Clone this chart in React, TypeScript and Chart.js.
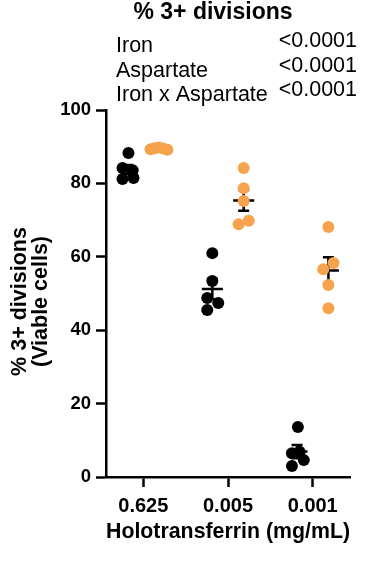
import React, { useEffect, useRef } from 'react';
import { Chart, registerables } from 'chart.js';

Chart.register(...registerables);

const chartTitle = '% 3+ divisions';
const factors = ['Iron', 'Aspartate', 'Iron x Aspartate'];
const pValues = ['<0.0001', '<0.0001', '<0.0001'];
const groups = ['0.625', '0.005', '0.001'];
const xAxisTitle = 'Holotransferrin (mg/mL)';
const yAxisTitle = ['% 3+ divisions', '(Viable cells)'];
const yTicks = [0, 20, 40, 60, 80, 100];

const seriesNames = ['Without aspartate', 'With aspartate'];
const blackValues = [
  [88.3, 84.2, 83.6, 81.2, 81.5],
  [61.0, 53.4, 48.8, 47.4, 45.5],
  [13.6, 6.5, 4.6, 3.0, 6.9],
];
const orangeValues = [
  [89.3, 89.6, 89.8, 89.5, 89.2],
  [84.2, 78.7, 75.2, 68.9, 69.8],
  [68.1, 58.3, 56.6, 52.3, 46.0],
];
const blackJitter = [
  [0.01, -0.06, 0.06, -0.06, 0.07],
  [0.0, 0.0, -0.06, 0.07, -0.06],
  [0.01, -0.06, 0.08, -0.06, 0.03],
];
const orangeJitter = [
  [-0.1, -0.05, 0.0, 0.05, 0.1],
  [0.0, 0.0, 0.0, -0.06, 0.06],
  [0.0, 0.06, -0.06, 0.0, 0.0],
];

const FONT = "'Liberation Sans', Arial, Helvetica, sans-serif";
const ORANGE = '#F7A24C';
const SERIES_OFFSET = 0.185;

function buildPoints(values: number[][], jitter: number[][], offset: number) {
  const pts: { x: number; y: number }[] = [];
  values.forEach((arr, g) => {
    arr.forEach((v, i) => {
      pts.push({ x: g + 1 + offset + jitter[g][i], y: v });
    });
  });
  return pts;
}

function meanSem(arr: number[]) {
  const n = arr.length;
  const m = arr.reduce((a, b) => a + b, 0) / n;
  const sd = Math.sqrt(arr.reduce((a, b) => a + (b - m) * (b - m), 0) / (n - 1));
  return { m, sem: sd / Math.sqrt(n) };
}

const errorBarPlugin = {
  id: 'meanSem',
  beforeDatasetsDraw(chart: any) {
    const ctx = chart.ctx;
    const xs = chart.scales.x;
    const ys = chart.scales.y;
    ctx.save();
    ctx.strokeStyle = '#000';
    ctx.lineWidth = 2.5;
    chart.data.datasets.forEach((ds: any) => {
      ds.groupValues.forEach((arr: number[], g: number) => {
        const { m, sem } = meanSem(arr);
        const cx = xs.getPixelForValue(g + 1 + ds.groupOffset);
        const ym = ys.getPixelForValue(m);
        const yt = ys.getPixelForValue(m + sem);
        const yb = ys.getPixelForValue(m - sem);
        ctx.beginPath();
        ctx.moveTo(cx - 10.5, ym);
        ctx.lineTo(cx + 10.5, ym);
        ctx.moveTo(cx, yt);
        ctx.lineTo(cx, yb);
        ctx.moveTo(cx - 5.5, yt);
        ctx.lineTo(cx + 5.5, yt);
        ctx.moveTo(cx - 5.5, yb);
        ctx.lineTo(cx + 5.5, yb);
        ctx.stroke();
      });
    });
    ctx.restore();
  },
};

const textPlugin = {
  id: 'outerText',
  afterDraw(chart: any) {
    const ctx = chart.ctx;
    ctx.save();
    ctx.fillStyle = '#000';
    ctx.font = `bold 23px ${FONT}`;
    ctx.textAlign = 'center';
    ctx.textBaseline = 'alphabetic';
    ctx.fillText(chartTitle, 213, 18.5);

    ctx.font = `21.5px ${FONT}`;
    factors.forEach((f, i) => {
      ctx.textAlign = 'left';
      ctx.fillText(f, 116, 52 + i * 24.5);
      ctx.textAlign = 'right';
      ctx.fillText(pValues[i], 357, 47 + i * 24.5);
    });

    const area = chart.chartArea;
    ctx.font = `bold 21.5px ${FONT}`;
    ctx.textAlign = 'center';
    ctx.textBaseline = 'middle';
    yAxisTitle.forEach((t, i) => {
      ctx.save();
      ctx.translate(20 + i * 21, (area.top + area.bottom) / 2 + 8);
      ctx.rotate(-Math.PI / 2);
      ctx.fillText(t, 0, 0);
      ctx.restore();
    });
    ctx.restore();
  },
};

export default function App() {
  const ref = useRef<HTMLCanvasElement | null>(null);
  useEffect(() => {
    if (!ref.current) return;
    const chart = new Chart(ref.current, {
      type: 'scatter',
      data: {
        datasets: [
          {
            label: seriesNames[0],
            data: buildPoints(blackValues, blackJitter, -SERIES_OFFSET),
            backgroundColor: '#000',
            borderWidth: 0,
            pointRadius: 6,
            groupValues: blackValues,
            groupOffset: -SERIES_OFFSET,
          } as any,
          {
            label: seriesNames[1],
            data: buildPoints(orangeValues, orangeJitter, SERIES_OFFSET),
            backgroundColor: ORANGE,
            borderWidth: 0,
            pointRadius: 6,
            groupValues: orangeValues,
            groupOffset: SERIES_OFFSET,
          } as any,
        ],
      },
      options: {
        animation: false,
        responsive: false,
        devicePixelRatio: 1,
        layout: { padding: { top: 110, right: 25, left: 0, bottom: 0 } },
        plugins: {
          legend: { display: false },
          tooltip: { enabled: false },
          title: { display: false },
        },
        scales: {
          x: {
            type: 'linear',
            min: 0.56,
            max: 3.44,
            afterBuildTicks: (axis: any) => {
              axis.ticks = groups.map((_, i) => ({ value: i + 1 }));
            },
            afterFit: (scale: any) => {
              scale.height = 88;
            },
            ticks: {
              callback: (v: any) => groups[Math.round(Number(v)) - 1] ?? '',
              color: '#000',
              font: { family: FONT, size: 20, weight: 'bold' },
              padding: 7,
              maxRotation: 0,
              autoSkip: false,
            },
            grid: {
              drawOnChartArea: false,
              drawTicks: true,
              tickLength: 10,
              tickWidth: 2.5,
              tickColor: '#000',
            },
            border: { display: true, color: '#000', width: 2.5 },
            title: {
              display: true,
              text: xAxisTitle,
              color: '#000',
              font: { family: FONT, size: 22.5, weight: 'bold' },
              padding: { top: 0, bottom: 20 },
            },
          },
          y: {
            type: 'linear',
            min: 0,
            max: 100,
            afterBuildTicks: (axis: any) => {
              axis.ticks = yTicks.map((v) => ({ value: v }));
            },
            afterFit: (scale: any) => {
              scale.width = 106;
            },
            ticks: {
              color: '#000',
              font: { family: FONT, size: 18.5, weight: 'bold' },
              padding: 5,
            },
            grid: {
              drawOnChartArea: false,
              drawTicks: true,
              tickLength: 10,
              tickWidth: 2.5,
              tickColor: '#000',
            },
            border: { display: true, color: '#000', width: 2.5 },
            title: { display: false },
          },
        },
      } as any,
      plugins: [errorBarPlugin, textPlugin],
    });
    return () => chart.destroy();
  }, []);

  return (
    <div style={{ position: 'fixed', left: 0, top: 0, width: 375, height: 565, background: '#fff' }}>
      <canvas ref={ref} width={375} height={565} style={{ width: 375, height: 565, display: 'block' }} />
    </div>
  );
}
